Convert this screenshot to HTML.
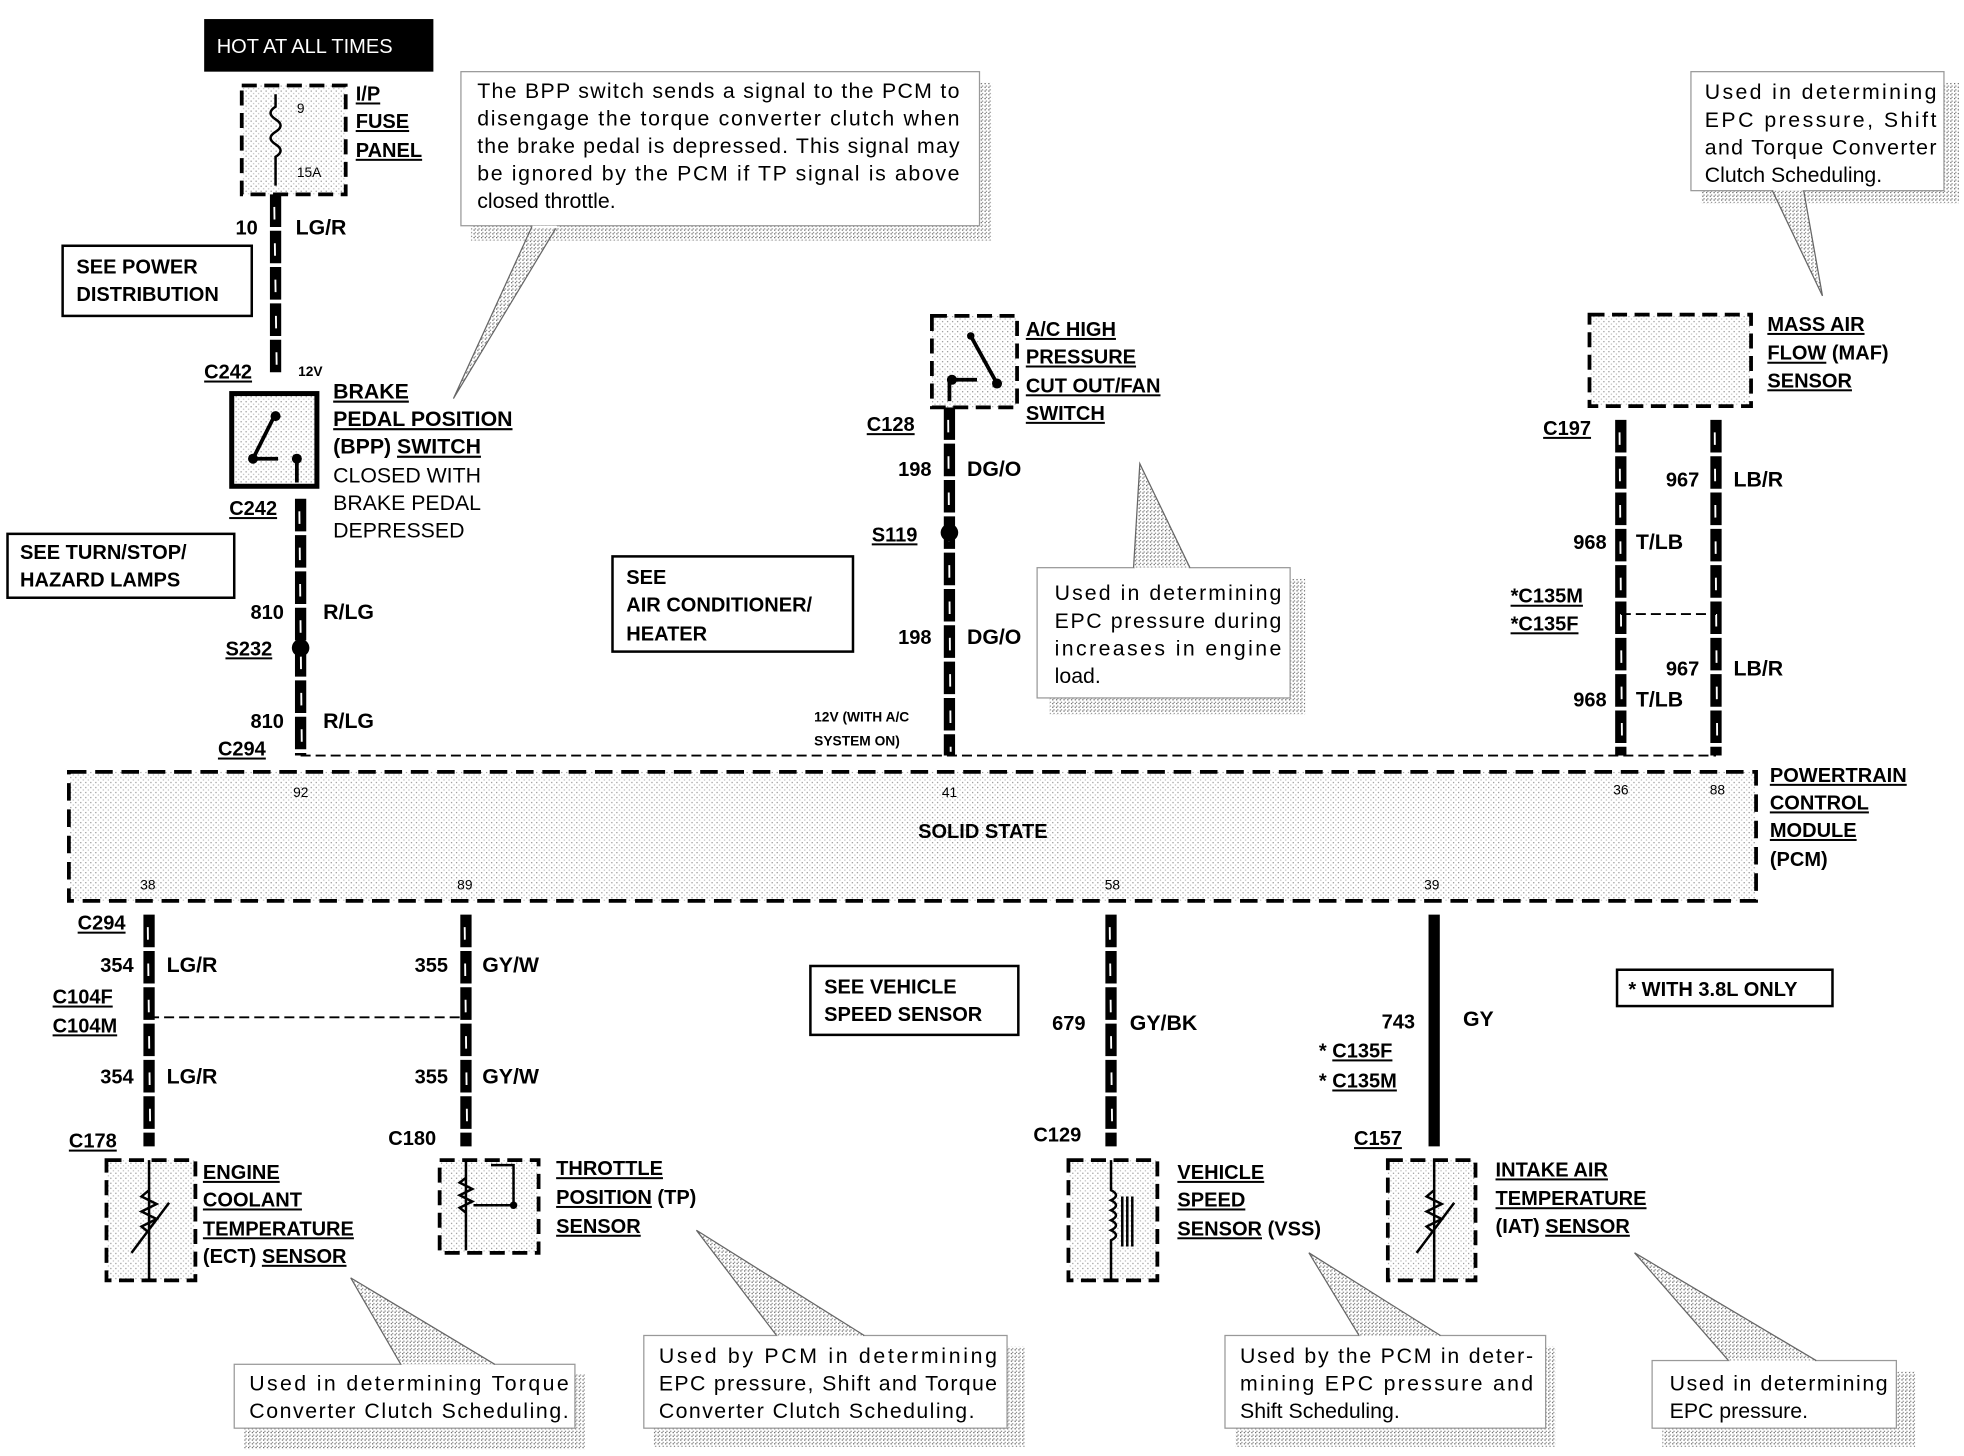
<!DOCTYPE html>
<html><head><meta charset="utf-8"><style>
html,body{margin:0;padding:0;background:#fff}
svg{display:block}
text{font-family:"Liberation Sans",Arial,sans-serif;font-size:16px;fill:#000}
.b{font-weight:bold}
.u{text-decoration:underline}
.n{font-size:17px}
.s{font-size:11px}
</style></head><body>
<svg width="1964" height="1456" viewBox="0 0 1568 1162" xmlns="http://www.w3.org/2000/svg">
<defs>
<pattern id="dot" width="4" height="4" patternUnits="userSpaceOnUse"><rect width="4" height="4" fill="#fff"/><rect width="1" height="1" fill="#999"/><rect x="2" y="2" width="1" height="1" fill="#bbb"/></pattern>
<pattern id="hat" width="3" height="3" patternUnits="userSpaceOnUse"><rect width="3" height="3" fill="#fff"/><rect width="1" height="1" fill="#666"/><rect x="1" y="2" width="1" height="1" fill="#888"/></pattern>
</defs>

<rect x="163" y="15" width="183" height="42" fill="#000"/>
<text x="173" y="42" style="fill:#fff;font-size:16px">HOT AT ALL TIMES</text>
<rect x="193" y="68" width="83" height="87" fill="url(#dot)" stroke="#000" stroke-width="3" stroke-dasharray="12 6"/>
<path d="M220 75 V85 q-8 5 0 10 q8 5 0 10 q-8 5 0 10 q8 5 0 10 V148" fill="none" stroke="#000" stroke-width="2"/>
<text x="237" y="90" class="s">9</text><text x="237" y="141" class="s">15A</text>
<text x="284" y="80" class="b u">I/P</text><text x="284" y="102" class="b u">FUSE</text><text x="284" y="125" class="b u">PANEL</text>

<g stroke="#000" stroke-width="9" fill="none">
<line x1="220" y1="155" x2="220" y2="300" stroke-dasharray="26 3"/>
<line x1="240" y1="398" x2="240" y2="603" stroke-dasharray="26 3"/>
<line x1="758" y1="325" x2="758" y2="603" stroke-dasharray="26 3"/>
<line x1="1294" y1="335" x2="1294" y2="603" stroke-dasharray="26 3"/>
<line x1="1370" y1="335" x2="1370" y2="603" stroke-dasharray="26 3"/>
<line x1="119" y1="730" x2="119" y2="915" stroke-dasharray="26 3"/>
<line x1="372" y1="730" x2="372" y2="915" stroke-dasharray="26 3"/>
<line x1="887" y1="730" x2="887" y2="915" stroke-dasharray="26 3"/>
<line x1="1145" y1="730" x2="1145" y2="915"/>
</g>
<g stroke="#fff" stroke-width="1.5" stroke-dasharray="10 19">
<line x1="219" y1="165" x2="221" y2="300"/><line x1="239" y1="408" x2="241" y2="600"/>
<line x1="757" y1="335" x2="759" y2="600"/><line x1="1293" y1="345" x2="1295" y2="600"/>
<line x1="1369" y1="345" x2="1371" y2="600"/><line x1="118" y1="740" x2="120" y2="910"/>
<line x1="371" y1="740" x2="373" y2="910"/><line x1="886" y1="740" x2="888" y2="910"/>
</g>
<circle cx="240" cy="517" r="7"/><circle cx="758" cy="425" r="7"/>

<text x="188" y="187" class="b">10</text><text x="236" y="187" class="b n">LG/R</text>
<rect x="50" y="196" width="151" height="56" fill="#fff" stroke="#000" stroke-width="2"/>
<text x="61" y="218" class="b">SEE POWER</text><text x="61" y="240" class="b">DISTRIBUTION</text>
<text x="163" y="302" class="b u">C242</text><text x="238" y="300" class="s b">12V</text>

<rect x="185" y="314" width="68" height="74" fill="url(#dot)" stroke="#000" stroke-width="4"/>
<path d="M220 330 L202 366 M202 366 H222 M237 368 V385" stroke="#000" stroke-width="3" fill="none"/>
<circle cx="220" cy="332" r="4"/><circle cx="202" cy="366" r="4"/><circle cx="237" cy="366" r="4"/>
<text x="266" y="318" class="b u n">BRAKE</text>
<text x="266" y="340" class="b n"><tspan class="u">PEDAL POSITION</tspan></text>
<text x="266" y="362" class="b n">(BPP) <tspan class="u">SWITCH</tspan></text>
<text x="266" y="385" class="n">CLOSED WITH</text><text x="266" y="407" class="n">BRAKE PEDAL</text><text x="266" y="429" class="n">DEPRESSED</text>
<text x="183" y="411" class="b u">C242</text>
<rect x="6" y="426" width="181" height="51" fill="#fff" stroke="#000" stroke-width="2"/>
<text x="16" y="446" class="b">SEE TURN/STOP/</text><text x="16" y="468" class="b">HAZARD LAMPS</text>
<text x="200" y="494" class="b">810</text><text x="258" y="494" class="b n">R/LG</text>
<text x="180" y="523" class="b u">S232</text>
<text x="200" y="581" class="b">810</text><text x="258" y="581" class="b n">R/LG</text>
<text x="174" y="603" class="b u">C294</text>

<rect x="376" y="66" width="416" height="126" fill="url(#hat)"/>
<rect x="368" y="57" width="414" height="123" fill="#fff" stroke="#999"/>
<path d="M425 180 L362 318 L445 180" fill="url(#hat)" stroke="#666"/>
<line x1="425" y1="181" x2="445" y2="181" stroke="#fff" stroke-width="2"/>
<text x="381" y="78" class="n" textLength="385">The BPP switch sends a signal to the PCM to</text>
<text x="381" y="100" class="n" textLength="385">disengage the torque converter clutch when</text>
<text x="381" y="122" class="n" textLength="385">the brake pedal is depressed. This signal may</text>
<text x="381" y="144" class="n" textLength="385">be ignored by the PCM if TP signal is above</text>
<text x="381" y="166" class="n">closed throttle.</text>

<rect x="744" y="252" width="68" height="73" fill="url(#dot)" stroke="#000" stroke-width="3" stroke-dasharray="12 6"/>
<path d="M775 268 L796 306 M760 303 H780 M758 303 V320" stroke="#000" stroke-width="3" fill="none"/>
<circle cx="775" cy="268" r="3"/><circle cx="760" cy="303" r="4"/><circle cx="796" cy="306" r="4"/>
<text x="819" y="268" class="b u">A/C HIGH</text><text x="819" y="290" class="b u">PRESSURE</text>
<text x="819" y="313" class="b u">CUT OUT/FAN</text><text x="819" y="335" class="b u">SWITCH</text>
<text x="692" y="344" class="b u">C128</text>
<text x="717" y="380" class="b">198</text><text x="772" y="380" class="b n">DG/O</text>
<text x="696" y="432" class="b u">S119</text>
<text x="717" y="514" class="b">198</text><text x="772" y="514" class="b n">DG/O</text>
<text x="650" y="576" class="s b">12V (WITH A/C</text><text x="650" y="595" class="s b">SYSTEM ON)</text>
<rect x="489" y="444" width="192" height="76" fill="#fff" stroke="#000" stroke-width="2"/>
<text x="500" y="466" class="b">SEE</text><text x="500" y="488" class="b">AIR CONDITIONER/</text><text x="500" y="511" class="b">HEATER</text>

<rect x="838" y="462" width="204" height="108" fill="url(#hat)"/>
<rect x="828" y="453" width="202" height="104" fill="#fff" stroke="#999"/>
<path d="M905 453 L910 370 L950 453" fill="url(#hat)" stroke="#666"/>
<line x1="906" y1="454" x2="949" y2="454" stroke="#fff" stroke-width="2"/>
<text x="842" y="479" class="n" textLength="181">Used in determining</text><text x="842" y="501" class="n" textLength="181">EPC pressure during</text>
<text x="842" y="523" class="n" textLength="181">increases in engine</text><text x="842" y="545" class="n">load.</text>

<rect x="1269" y="251" width="129" height="73" fill="url(#dot)" stroke="#000" stroke-width="3" stroke-dasharray="12 6"/>
<text x="1411" y="264" class="b u">MASS AIR</text><text x="1411" y="287" class="b"><tspan class="u">FLOW</tspan> (MAF)</text>
<text x="1411" y="309" class="b u">SENSOR</text>
<text x="1232" y="347" class="b u">C197</text>
<text x="1330" y="388" class="b">967</text><text x="1384" y="388" class="b n">LB/R</text>
<text x="1256" y="438" class="b">968</text><text x="1306" y="438" class="b n">T/LB</text>
<text x="1206" y="481" class="b u">*C135M</text><text x="1206" y="503" class="b u">*C135F</text>
<line x1="1294" y1="490" x2="1370" y2="490" stroke="#000" stroke-width="1.5" stroke-dasharray="8 4"/>
<text x="1330" y="539" class="b">967</text><text x="1384" y="539" class="b n">LB/R</text>
<text x="1256" y="564" class="b">968</text><text x="1306" y="564" class="b n">T/LB</text>

<rect x="1358" y="66" width="206" height="96" fill="url(#hat)"/>
<rect x="1350" y="57" width="202" height="95" fill="#fff" stroke="#999"/>
<path d="M1415 152 L1455 236 L1440 152" fill="url(#hat)" stroke="#666"/>
<line x1="1416" y1="151" x2="1439" y2="151" stroke="#fff" stroke-width="2"/>
<text x="1361" y="79" class="n" textLength="185">Used in determining</text><text x="1361" y="101" class="n" textLength="185">EPC pressure, Shift</text>
<text x="1361" y="123" class="n" textLength="185">and Torque Converter</text><text x="1361" y="145" class="n">Clutch Scheduling.</text>

<line x1="240" y1="603" x2="1370" y2="603" stroke="#000" stroke-width="1.5" stroke-dasharray="8 4"/>
<rect x="55" y="616" width="1347" height="103" fill="url(#dot)" stroke="#000" stroke-width="3" stroke-dasharray="14 7"/>
<text x="733" y="669" class="b">SOLID STATE</text>
<text x="234" y="636" class="s">92</text><text x="752" y="636" class="s">41</text>
<text x="1288" y="634" class="s">36</text><text x="1365" y="634" class="s">88</text>
<text x="112" y="710" class="s">38</text><text x="365" y="710" class="s">89</text>
<text x="882" y="710" class="s">58</text><text x="1137" y="710" class="s">39</text>
<text x="1413" y="624" class="b u">POWERTRAIN</text><text x="1413" y="646" class="b u">CONTROL</text>
<text x="1413" y="668" class="b u">MODULE</text><text x="1413" y="691" class="b">(PCM)</text>

<text x="62" y="742" class="b u">C294</text>
<text x="80" y="776" class="b">354</text><text x="133" y="776" class="b n">LG/R</text>
<text x="331" y="776" class="b">355</text><text x="385" y="776" class="b n">GY/W</text>
<text x="42" y="801" class="b u">C104F</text><text x="42" y="824" class="b u">C104M</text>
<line x1="119" y1="812" x2="372" y2="812" stroke="#000" stroke-width="1.5" stroke-dasharray="8 4"/>
<text x="80" y="865" class="b">354</text><text x="133" y="865" class="b n">LG/R</text>
<text x="331" y="865" class="b">355</text><text x="385" y="865" class="b n">GY/W</text>
<text x="55" y="916" class="b u">C178</text><text x="310" y="914" class="b">C180</text>

<rect x="85" y="926" width="71" height="96" fill="url(#dot)" stroke="#000" stroke-width="3" stroke-dasharray="12 6"/>
<path d="M119 926 V1022 M119 950 l-6 5 l12 6 l-12 6 l12 6 l-12 6 l6 5 M105 1000 L135 960" stroke="#000" stroke-width="2" fill="none"/>
<text x="162" y="941" class="b u">ENGINE</text><text x="162" y="963" class="b u">COOLANT</text>
<text x="162" y="986" class="b u">TEMPERATURE</text><text x="162" y="1008" class="b">(ECT) <tspan class="u">SENSOR</tspan></text>

<rect x="351" y="926" width="79" height="74" fill="url(#dot)" stroke="#000" stroke-width="3" stroke-dasharray="12 6"/>
<path d="M372 926 V998 M372 940 l-5 4 l10 5 l-10 5 l10 5 l-10 5 l5 4 M378 962 H410 V930 H392" stroke="#000" stroke-width="2" fill="none"/>
<circle cx="410" cy="962" r="3"/>
<text x="444" y="938" class="b u">THROTTLE</text><text x="444" y="961" class="b"><tspan class="u">POSITION</tspan> (TP)</text>
<text x="444" y="984" class="b u">SENSOR</text>

<rect x="647" y="771" width="166" height="55" fill="#fff" stroke="#000" stroke-width="2"/>
<text x="658" y="793" class="b">SEE VEHICLE</text><text x="658" y="815" class="b">SPEED SENSOR</text>
<text x="840" y="822" class="b">679</text><text x="902" y="822" class="b n">GY/BK</text>
<text x="825" y="911" class="b">C129</text>
<rect x="853" y="926" width="71" height="96" fill="url(#dot)" stroke="#000" stroke-width="3" stroke-dasharray="12 6"/>
<path d="M887 926 V950 q8 4 0 8 q8 4 0 8 q8 4 0 8 q8 4 0 8 q8 4 0 8 V1022 M896 955 V995 M900 955 V995 M904 955 V995" stroke="#000" stroke-width="2" fill="none"/>
<text x="940" y="941" class="b u">VEHICLE</text><text x="940" y="963" class="b u">SPEED</text>
<text x="940" y="986" class="b"><tspan class="u">SENSOR</tspan> (VSS)</text>

<text x="1103" y="821" class="b">743</text><text x="1168" y="819" class="b n">GY</text>
<text x="1053" y="844" class="b">* <tspan class="u">C135F</tspan></text><text x="1053" y="868" class="b">* <tspan class="u">C135M</tspan></text>
<text x="1081" y="914" class="b u">C157</text>
<rect x="1108" y="926" width="70" height="96" fill="url(#dot)" stroke="#000" stroke-width="3" stroke-dasharray="12 6"/>
<path d="M1145 926 V1022 M1145 950 l-6 5 l12 6 l-12 6 l12 6 l-12 6 l6 5 M1131 1000 L1161 960" stroke="#000" stroke-width="2" fill="none"/>
<text x="1194" y="939" class="b u">INTAKE AIR</text><text x="1194" y="962" class="b u">TEMPERATURE</text>
<text x="1194" y="984" class="b">(IAT) <tspan class="u">SENSOR</tspan></text>
<rect x="1291" y="774" width="172" height="29" fill="#fff" stroke="#000" stroke-width="2"/>
<text x="1300" y="795" class="b">*  WITH 3.8L ONLY</text>

<rect x="195" y="1097" width="272" height="60" fill="url(#hat)"/>
<rect x="187" y="1089" width="272" height="51" fill="#fff" stroke="#999"/>
<path d="M320 1089 L280 1020 L395 1089" fill="url(#hat)" stroke="#666"/>
<line x1="321" y1="1090" x2="394" y2="1090" stroke="#fff" stroke-width="2"/>
<text x="199" y="1110" class="n" textLength="255">Used in determining Torque</text><text x="199" y="1132" class="n" textLength="255">Converter Clutch Scheduling.</text>

<rect x="522" y="1075" width="296" height="80" fill="url(#hat)"/>
<rect x="514" y="1066" width="290" height="74" fill="#fff" stroke="#999"/>
<path d="M620 1066 L556 982 L690 1066" fill="url(#hat)" stroke="#666"/>
<line x1="621" y1="1067" x2="689" y2="1067" stroke="#fff" stroke-width="2"/>
<text x="526" y="1088" class="n" textLength="270">Used by PCM in determining</text><text x="526" y="1110" class="n" textLength="270">EPC pressure, Shift and Torque</text>
<text x="526" y="1132" class="n" textLength="252">Converter Clutch Scheduling.</text>

<rect x="986" y="1075" width="256" height="80" fill="url(#hat)"/>
<rect x="978" y="1066" width="256" height="74" fill="#fff" stroke="#999"/>
<path d="M1085 1066 L1045 1000 L1150 1066" fill="url(#hat)" stroke="#666"/>
<line x1="1086" y1="1067" x2="1149" y2="1067" stroke="#fff" stroke-width="2"/>
<text x="990" y="1088" class="n" textLength="234">Used by the PCM in deter-</text><text x="990" y="1110" class="n" textLength="234">mining EPC pressure and</text>
<text x="990" y="1132" class="n">Shift Scheduling.</text>

<rect x="1327" y="1095" width="202" height="60" fill="url(#hat)"/>
<rect x="1319" y="1086" width="195" height="54" fill="#fff" stroke="#999"/>
<path d="M1380 1086 L1305 1000 L1450 1086" fill="url(#hat)" stroke="#666"/>
<line x1="1381" y1="1087" x2="1449" y2="1087" stroke="#fff" stroke-width="2"/>
<text x="1333" y="1110" class="n" textLength="174">Used in determining</text><text x="1333" y="1132" class="n">EPC pressure.</text>
</svg>
</body></html>
